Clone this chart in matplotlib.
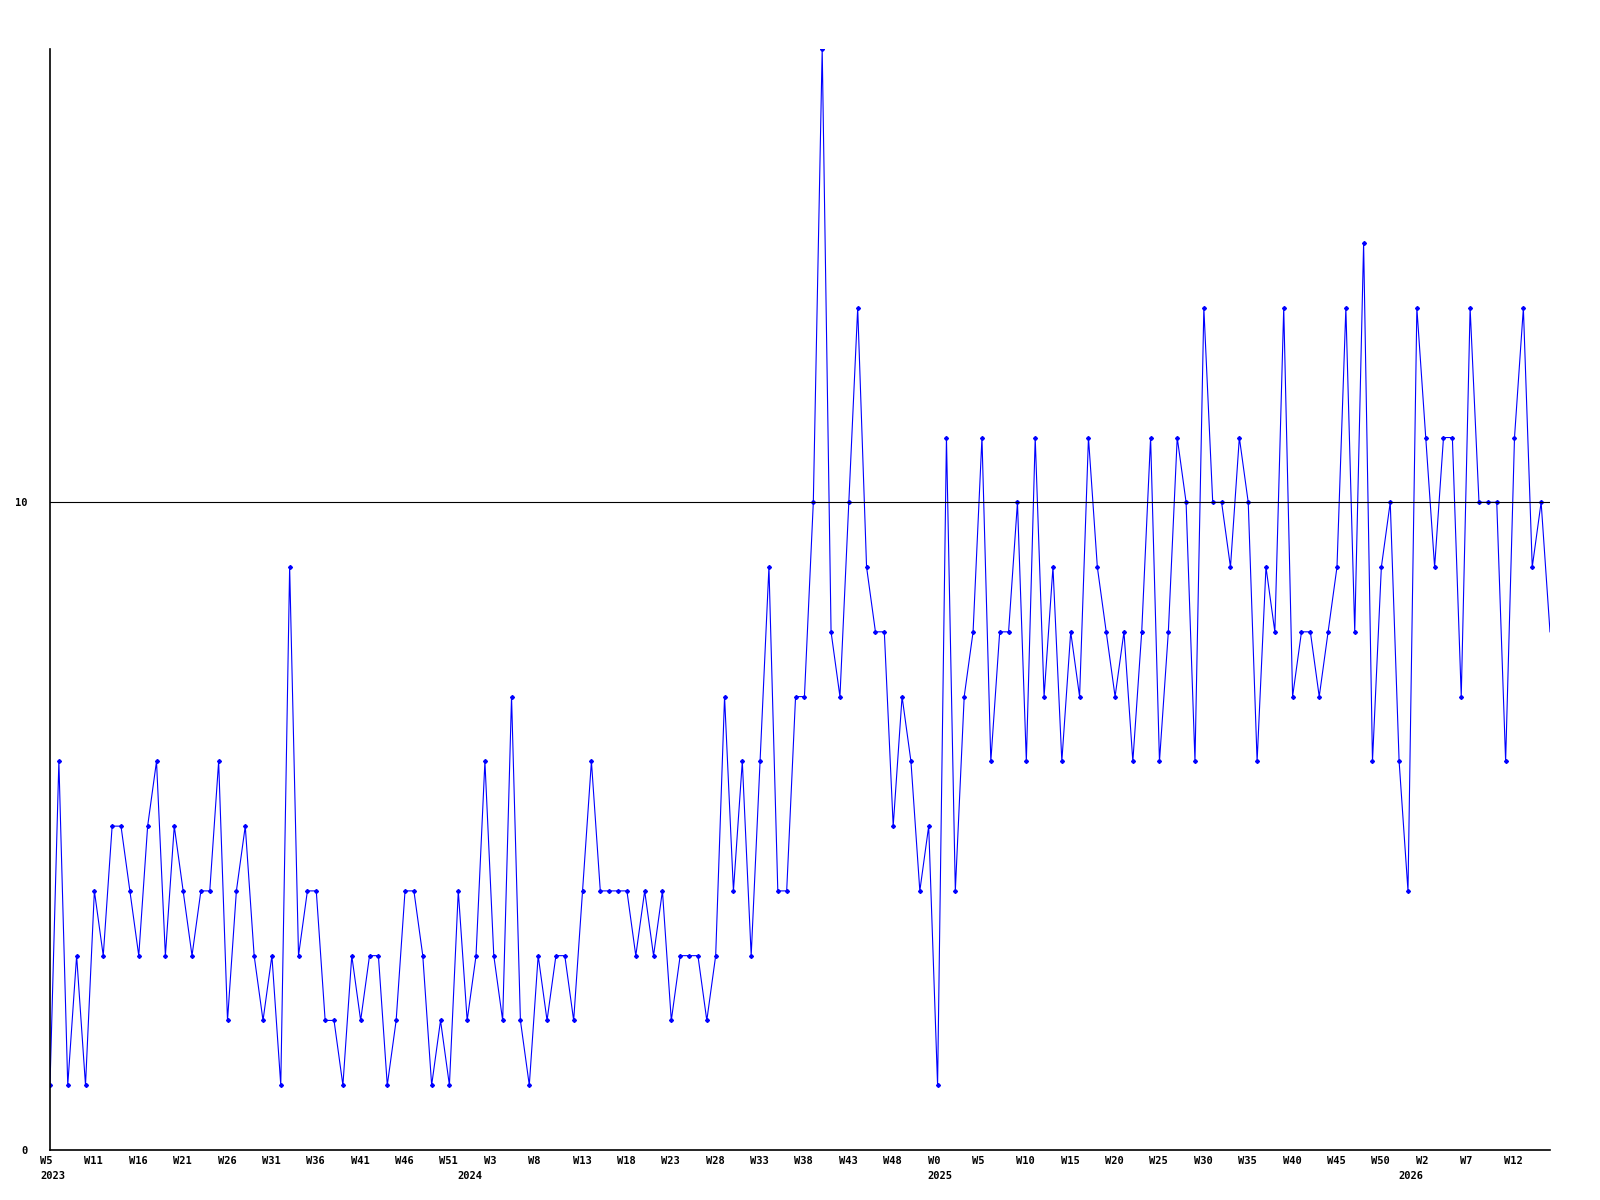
import matplotlib
matplotlib.use('Agg')
import matplotlib.pyplot as plt
from matplotlib.transforms import offset_copy

# weekly values, first point is W5 2023
valores = [
    1, 6, 1, 3, 1, 4, 3, 5, 5, 4, 3, 5, 6, 3, 5, 4, 3, 4, 4, 6,
    2, 4, 5, 3, 2, 3, 1, 9, 3, 4, 4, 2, 2, 1, 3, 2, 3, 3, 1, 2,
    4, 4, 3, 1, 2, 1, 4, 2, 3, 6, 3, 2, 7, 2, 1, 3, 2, 3, 3, 2,
    4, 6, 4, 4, 4, 4, 3, 4, 3, 4, 2, 3, 3, 3, 2, 3, 7, 4, 6, 3,
    6, 9, 4, 4, 7, 7, 10, 17, 8, 7, 10, 13, 9, 8, 8, 5, 7, 6, 4, 5,
    1, 11, 4, 7, 8, 11, 6, 8, 8, 10, 6, 11, 7, 9, 6, 8, 7, 11, 9, 8,
    7, 8, 6, 8, 11, 6, 8, 11, 10, 6, 13, 10, 10, 9, 11, 10, 6, 9, 8, 13,
    7, 8, 8, 7, 8, 9, 13, 8, 14, 6, 9, 10, 6, 4, 13, 11, 9, 11, 11, 7,
    13, 10, 10, 10, 6, 11, 13, 9, 10, 8,
]

# labels every 5 weeks
semanas = ['W5', 'W11', 'W16', 'W21', 'W26', 'W31', 'W36', 'W41', 'W46', 'W51',
           'W3', 'W8', 'W13', 'W18', 'W23', 'W28', 'W33', 'W38', 'W43', 'W48',
           'W0', 'W5', 'W10', 'W15', 'W20', 'W25', 'W30', 'W35', 'W40', 'W45',
           'W50', 'W2', 'W7', 'W12']
anios = ['2023', '2024', '2025', '2026']
pos_anios = [0, 47, 100, 153]

x = list(range(len(valores)))

fig = plt.figure(figsize=(16, 12), dpi=100)
ax = fig.add_axes([0.03125, 0.0417, 0.9375, 0.9175])

ax.plot(x, valores, color='#0000ff', linewidth=0.8, zorder=2)
# markers on all points except the last one (cut by the edge in the original)
ax.plot(x[:-1], valores[:-1], linestyle='none', color='#0000ff', marker='D',
        markersize=2.0, zorder=2)
ax.axhline(10, color='black', linewidth=0.8, zorder=3)

ax.set_xlim(0, len(valores) - 1)
ax.set_ylim(0, 17)

for lado in ['top', 'right']:
    ax.spines[lado].set_visible(False)
for lado in ['left', 'bottom']:
    ax.spines[lado].set_linewidth(1.2)
    ax.spines[lado].set_color('black')

fuente = dict(family='DejaVu Sans Mono', weight='bold', fontsize=7.5)

ax.set_yticks([0, 10])
ax.set_yticklabels(['0', '10'], **fuente)
ax.tick_params(axis='y', length=0, pad=16)
ax.set_xticks([])

t_sem = offset_copy(ax.get_xaxis_transform(), fig=fig, x=-10, y=-6, units='dots')
for i, s in enumerate(semanas):
    ax.text(i * 5, 0, s, transform=t_sem, ha='left', va='top', **fuente)

t_anio = offset_copy(ax.get_xaxis_transform(), fig=fig, x=-10, y=-21, units='dots')
for p, a in zip(pos_anios, anios):
    ax.text(p, 0, a, transform=t_anio, ha='left', va='top', **fuente)

plt.savefig('out.png', dpi=100)
